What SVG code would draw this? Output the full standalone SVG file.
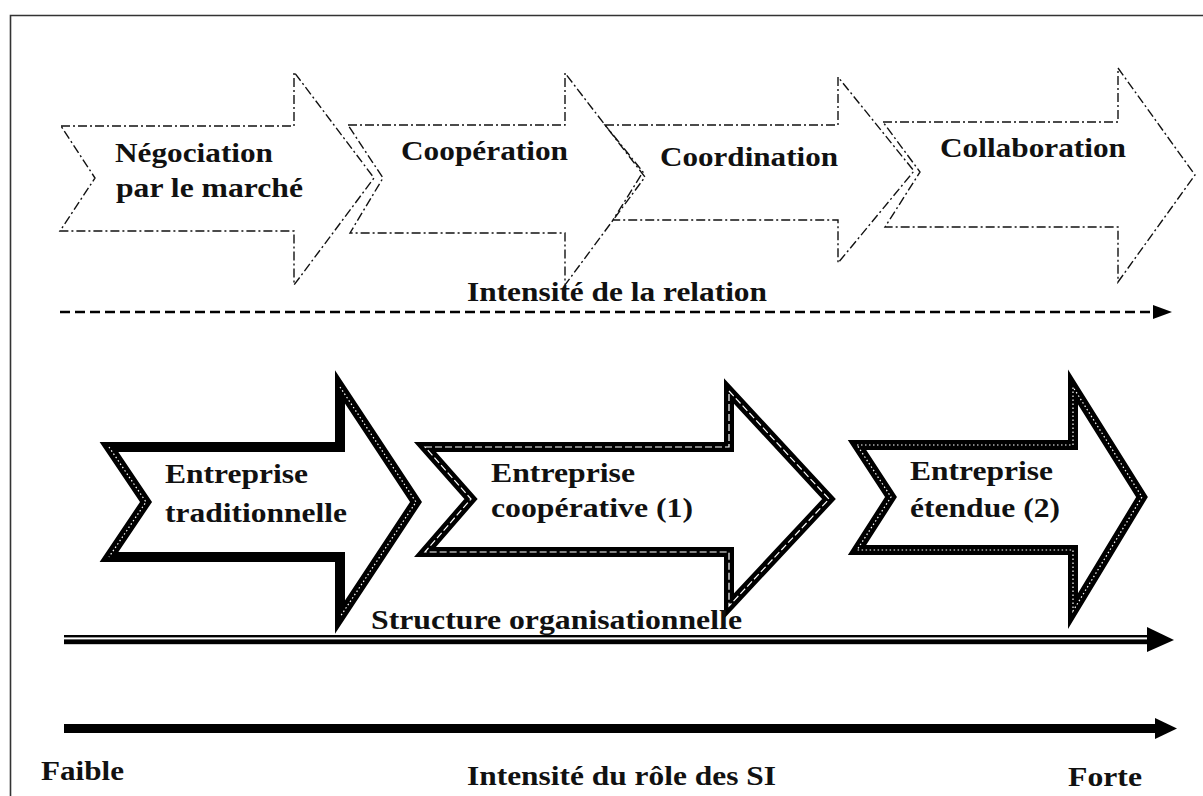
<svg xmlns="http://www.w3.org/2000/svg" width="1203" height="796" viewBox="0 0 1203 796">
  <style>
    .lbl { font-family: "Liberation Serif", "Times New Roman", serif; font-weight: bold; fill: #111; }
    .top { font-size: 27px; }
    .mid { font-size: 28px; }
    .dashdot { fill: none; stroke: #111; stroke-width: 1.4; stroke-dasharray: 9 3 2 3; stroke-linejoin: miter; }
    .thick { fill: none; stroke: #000; stroke-width: 10; stroke-linejoin: miter; stroke-miterlimit: 6; }
    .inner-dot { fill: none; stroke: #fff; stroke-width: 1.2; stroke-dasharray: 1.5 2.5; }
    .inner-dash { fill: none; stroke: #fff; stroke-width: 1.2; stroke-dasharray: 7 3; }
  </style>

  <!-- frame -->
  <path d="M10.5,796 V15.5 H1203" fill="none" stroke="#333" stroke-width="1.6"/>

  <!-- upper row: relationship types -->
  <g id="negociation">
    <path class="dashdot" d="M61,126 H294 V72 L374,178 L294,285 V231 H60 L95,178 Z"/>
    <text class="lbl top" x="115" y="162" textLength="158" lengthAdjust="spacingAndGlyphs">Négociation</text>
    <text class="lbl top" x="116" y="197" textLength="187" lengthAdjust="spacingAndGlyphs">par le marché</text>
  </g>
  <g id="cooperation">
    <path class="dashdot" d="M348,125 H565 V73 L645,177 L565,285 V233 H350 L383,178 Z"/>
    <text class="lbl top" x="401" y="160" textLength="167" lengthAdjust="spacingAndGlyphs">Coopération</text>
  </g>
  <g id="coordination">
    <path class="dashdot" d="M605,125 H838 V77 L914,171 L838,263 V220 H613 L643,172 Z"/>
    <text class="lbl top" x="660" y="166" textLength="178" lengthAdjust="spacingAndGlyphs">Coordination</text>
  </g>
  <g id="collaboration">
    <path class="dashdot" d="M883,122 H1118 V68 L1195,175 L1118,282 V227 H885 L920,172 Z"/>
    <text class="lbl top" x="940" y="157" textLength="186" lengthAdjust="spacingAndGlyphs">Collaboration</text>
  </g>

  <!-- middle row: organisational forms -->
  <g id="traditionnelle">
    <path class="thick" d="M109,447 H340 V387 L416,502 L340,617 V557 H109 L146,502 Z"/>
    <path class="inner-dot" d="M109,447 L146,502 L109,557 M340,387 L416,502 L340,617"/>
    <text class="lbl mid" x="165" y="483" textLength="143" lengthAdjust="spacingAndGlyphs">Entreprise</text>
    <text class="lbl mid" x="165" y="522" textLength="182" lengthAdjust="spacingAndGlyphs">traditionnelle</text>
  </g>
  <g id="cooperative">
    <path class="thick" d="M425,447 H729 V391 L829,499 L729,606 V552 H425 L471,499 Z"/>
    <path class="inner-dash" d="M425,447 H729 V391 L829,499 L729,606 V552 H425 L471,499 Z"/>
    <text class="lbl mid" x="491" y="482" textLength="144" lengthAdjust="spacingAndGlyphs">Entreprise</text>
    <text class="lbl mid" x="491" y="517" textLength="202" lengthAdjust="spacingAndGlyphs">coopérative (1)</text>
  </g>
  <g id="etendue">
    <path class="thick" d="M857,445 H1073 V387 L1142,497 L1073,611 V550 H857 L891,497 Z"/>
    <path class="inner-dot" d="M857,445 H1073 V387 L1142,497 L1073,611 V550 H857 L891,497 Z"/>
    <text class="lbl mid" x="910" y="480" textLength="143" lengthAdjust="spacingAndGlyphs">Entreprise</text>
    <text class="lbl mid" x="910" y="517" textLength="150" lengthAdjust="spacingAndGlyphs">étendue (2)</text>
  </g>

  <!-- axis labels -->
  <g id="axis-labels">
    <text class="lbl mid" x="467" y="301" textLength="300" lengthAdjust="spacingAndGlyphs">Intensité de la relation</text>
    <text class="lbl mid" x="371" y="629" textLength="371" lengthAdjust="spacingAndGlyphs">Structure organisationnelle</text>
    <text class="lbl mid" x="41" y="780" textLength="83" lengthAdjust="spacingAndGlyphs">Faible</text>
    <text class="lbl mid" x="467" y="785" textLength="309" lengthAdjust="spacingAndGlyphs">Intensité du rôle des SI</text>
    <text class="lbl mid" x="1068" y="786" textLength="74" lengthAdjust="spacingAndGlyphs">Forte</text>
  </g>

  <!-- axes -->
  <g id="connectors">
    <!-- relation intensity: dashed -->
    <line x1="60" y1="312" x2="1154" y2="312" stroke="#000" stroke-width="2.6" stroke-dasharray="10 5"/>
    <polygon points="1153,305 1172,312 1153,319" fill="#000"/>
    <!-- organisational structure: double line -->
    <rect x="64" y="635" width="1086" height="2.4" fill="#000"/>
    <rect x="64" y="639.4" width="1086" height="4.8" fill="#000"/>
    <polygon points="1147,627 1174,640 1147,652" fill="#000"/>
    <!-- IS role intensity: heavy line -->
    <rect x="64" y="724" width="1094" height="9" fill="#000"/>
    <polygon points="1155,718 1177,728.5 1155,739" fill="#000"/>
  </g>
</svg>
